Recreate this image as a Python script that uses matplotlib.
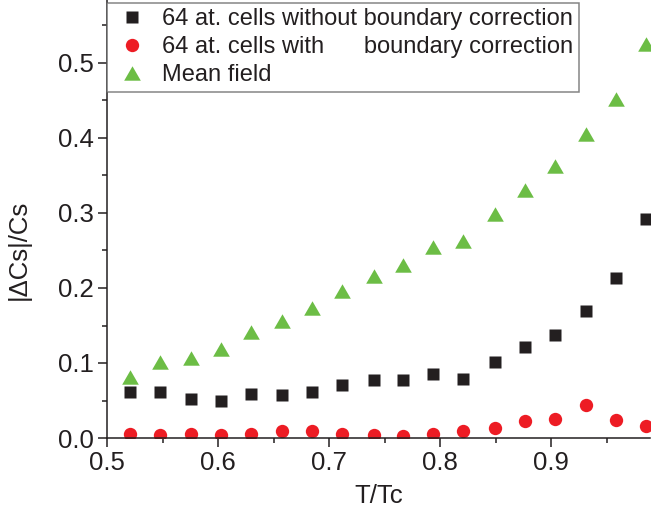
import matplotlib
matplotlib.use("Agg")
import matplotlib.pyplot as plt
from matplotlib.ticker import MultipleLocator

plt.rcParams["font.family"] = ["Liberation Sans", "DejaVu Sans"]

t_tc = [0.521, 0.548, 0.576, 0.603, 0.630, 0.658, 0.685, 0.712, 0.740,
        0.767, 0.794, 0.821, 0.849, 0.876, 0.903, 0.931, 0.958, 0.985]
no_corr = [0.062, 0.062, 0.052, 0.049, 0.059, 0.057, 0.061, 0.071, 0.077,
           0.077, 0.085, 0.079, 0.101, 0.121, 0.138, 0.170, 0.213, 0.292]
with_corr = [0.0056, 0.0035, 0.005, 0.0043, 0.0056, 0.0087, 0.0097, 0.005, 0.0043,
             0.003, 0.0053, 0.0098, 0.013, 0.023, 0.0258, 0.0436, 0.024, 0.0165]
mean_field = [0.081, 0.101, 0.107, 0.119, 0.142, 0.156, 0.173, 0.196, 0.216,
              0.231, 0.255, 0.263, 0.299, 0.330, 0.362, 0.405, 0.452, 0.525]

labels = ["64 at. cells without boundary correction",
          "64 at. cells with      boundary correction",
          "Mean field"]

tri = [(-1, -0.866), (1, -0.866), (0, 0.866), (-1, -0.866)]

fig = plt.figure(figsize=(6.6, 5.13), dpi=100)
ax = fig.add_axes([107 / 660, 75 / 513, 543 / 660, 438 / 513])

ax.plot(t_tc, no_corr, ls="none", marker="s", ms=8.8, color="#231f20", mec="none", label=labels[0])
ax.plot(t_tc, with_corr, ls="none", marker="o", ms=9.6, color="#ed1c24", mec="none", label=labels[1])
ax.plot(t_tc, mean_field, ls="none", marker=tri, ms=12, color="#6cbd45", mec="none", label=labels[2])

ax.set_xlim(0.5, 0.989)
ax.set_ylim(0, 0.584)
ax.xaxis.set_major_locator(MultipleLocator(0.1))
ax.xaxis.set_minor_locator(MultipleLocator(0.05))
ax.yaxis.set_major_locator(MultipleLocator(0.1))
ax.yaxis.set_minor_locator(MultipleLocator(0.05))
ax.xaxis.set_major_formatter(plt.FuncFormatter(lambda v, p: "%.1f" % v))
ax.yaxis.set_major_formatter(plt.FuncFormatter(lambda v, p: "%.1f" % v))

for s in ["top", "right"]:
    ax.spines[s].set_visible(False)
for s in ["left", "bottom"]:
    ax.spines[s].set_linewidth(1.1)
    ax.spines[s].set_color("#231f20")

ax.tick_params(which="major", direction="out", length=6.5, width=1.1, labelsize=18.5,
               color="#231f20", labelcolor="#231f20", pad=3)
ax.tick_params(which="minor", direction="out", length=3.6, width=1.1, color="#231f20")

ax.set_xlabel("T/Tc", fontsize=18.5, color="#231f20")
ax.set_ylabel("|\u0394Cs|/Cs", fontsize=18.5, color="#231f20")
ax.xaxis.set_label_coords(0.5, -0.105)
ax.yaxis.set_label_coords(-0.14, 0.43)

leg = ax.legend(loc="upper left", bbox_to_anchor=(0, 1.0 - 3 / 438), fontsize=17,
                frameon=True, fancybox=False, borderaxespad=0, handletextpad=0.42,
                labelspacing=0.26, borderpad=0.22, handlelength=1.7)
leg.get_frame().set_edgecolor("#666666")
leg.get_frame().set_linewidth(1.1)
for t in leg.get_texts():
    t.set_color("#231f20")

fig.savefig("out.png", dpi=100)
